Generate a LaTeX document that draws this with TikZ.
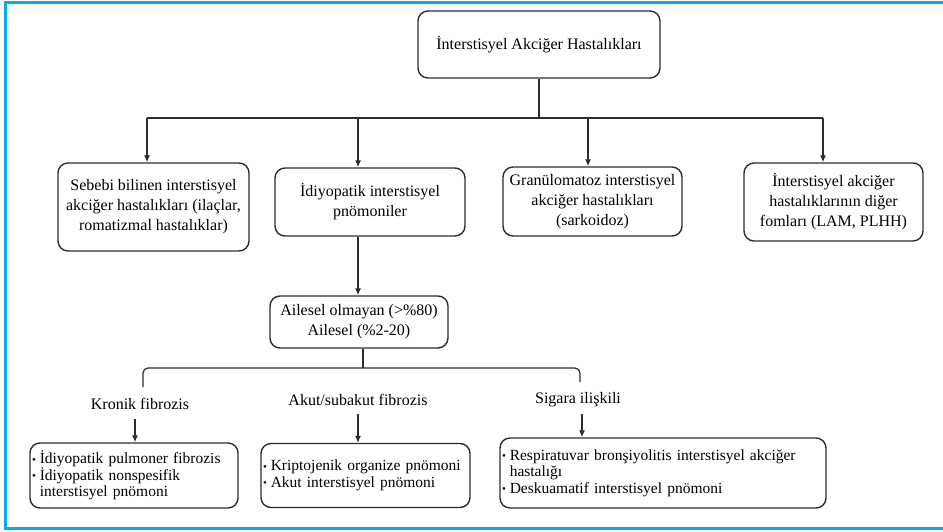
\documentclass[tikz,border=0pt]{standalone}
\usepackage{fontspec}
\setmainfont{Liberation Serif}
\usetikzlibrary{arrows.meta}
\definecolor{framecyan}{RGB}{0,174,239}
\definecolor{boxgray}{RGB}{45,45,45}
\newcommand{\bul}{\makebox[0.5em][l]{\raisebox{0.1ex}{\fontsize{11}{11}\selectfont\textbullet}}}
\newcommand{\ind}{\hspace*{0.5em}}
\hyphenpenalty=10000

\begin{document}
\begin{tikzpicture}[x=1pt,y=-1pt,
  box/.style={draw=boxgray,line width=1.4pt,rounded corners=10pt,align=center,inner sep=2pt,
    font=\fontsize{16}{20}\selectfont},
  listbox/.style={box,align=left,inner xsep=2pt,font=\fontsize{15.5}{16.5}\selectfont},
  lbl/.style={font=\fontsize{16}{18}\selectfont},
  line/.style={line width=1.2pt,draw=boxgray},
  arr/.style={line,-{Latex[length=7pt,width=6pt]}}]
\useasboundingbox (0,0) rectangle (943,531);
% frame
\draw[framecyan,line width=3pt] (5,2) rectangle (990,528);

% top level
\node[box,minimum width=242,minimum height=67] (ild) at (539,44.5) {İnterstisyel Akciğer Hastalıkları};

\node[box,minimum width=191,minimum height=88] (sebebi) at (153.5,207)
  {Sebebi bilinen interstisyel\\akciğer hastalıkları (ilaçlar,\\romatizmal hastalıklar)};
\node[box,minimum width=190,minimum height=68] (iip) at (370,202)
  {İdiyopatik interstisyel\\pnömoniler};
\node[box,minimum width=179,minimum height=69] (granul) at (592.5,201.5)
  {Granülomatoz interstisyel\\akciğer hastalıkları\\(sarkoidoz)};
\node[box,minimum width=179,minimum height=78] (diger) at (833.5,202)
  {İnterstisyel akciğer\\hastalıklarının diğer\\fomları (LAM, PLHH)};

\coordinate (bus) at (539,118);
\coordinate (b1) at (147,118);
\coordinate (b2) at (358,118);
\coordinate (b3) at (588,118);
\coordinate (b4) at (823,118);
\draw[line] (ild.south) -- (bus);
\draw[line] (b1) -- (b4);
\draw[arr] (b1) -- (b1 |- sebebi.north);
\draw[arr] (b2) -- (b2 |- iip.north);
\draw[arr] (b3) -- (b3 |- granul.north);
\draw[arr] (b4) -- (b4 |- diger.north);

% second level
\node[box,minimum width=178,minimum height=52] (ailesel) at (359,322)
  {Ailesel olmayan (>\%80)\\Ailesel (\%2-20)};
\draw[arr] (b2 |- iip.south) -- (b2 |- ailesel.north);

\coordinate (brM) at (363,368);
\coordinate (brL) at (143,387);
\coordinate (brR) at (580,382);
\draw[line] (brM |- ailesel.south) -- (brM);
\draw[line,rounded corners=5pt] (brL) |- (brM) -| (brR);

\node[lbl] (kronik) at (140,404) {Kronik fibrozis};
\node[lbl] (akut) at (358,400) {Akut/subakut fibrozis};
\node[lbl] (sigara) at (578,400) {Sigara ilişkili};

% lists
\node[listbox,text width=204,minimum height=65] (list1) at (134,475.5)
  {\bul İdiyopatik pulmoner fibrozis\\\bul İdiyopatik nonspesifik\\\ind interstisyel pnömoni};
\node[listbox,text width=205,minimum height=64] (list2) at (365.5,475.5)
  {\bul Kriptojenik organize pnömoni\\\bul Akut interstisyel pnömoni};
\node[listbox,text width=322,minimum height=70] (list3) at (663,473)
  {\bul Respiratuvar bronşiyolitis interstisyel akciğer\\\ind hastalığı\\\bul Deskuamatif interstisyel pnömoni};

\coordinate (k1) at (135,419);
\coordinate (a1) at (358,414);
\coordinate (s1) at (582,414);
\draw[arr] (k1) -- (k1 |- list1.north);
\draw[arr] (a1) -- (a1 |- list2.north);
\draw[arr] (s1) -- (s1 |- list3.north);
\end{tikzpicture}
\end{document}
